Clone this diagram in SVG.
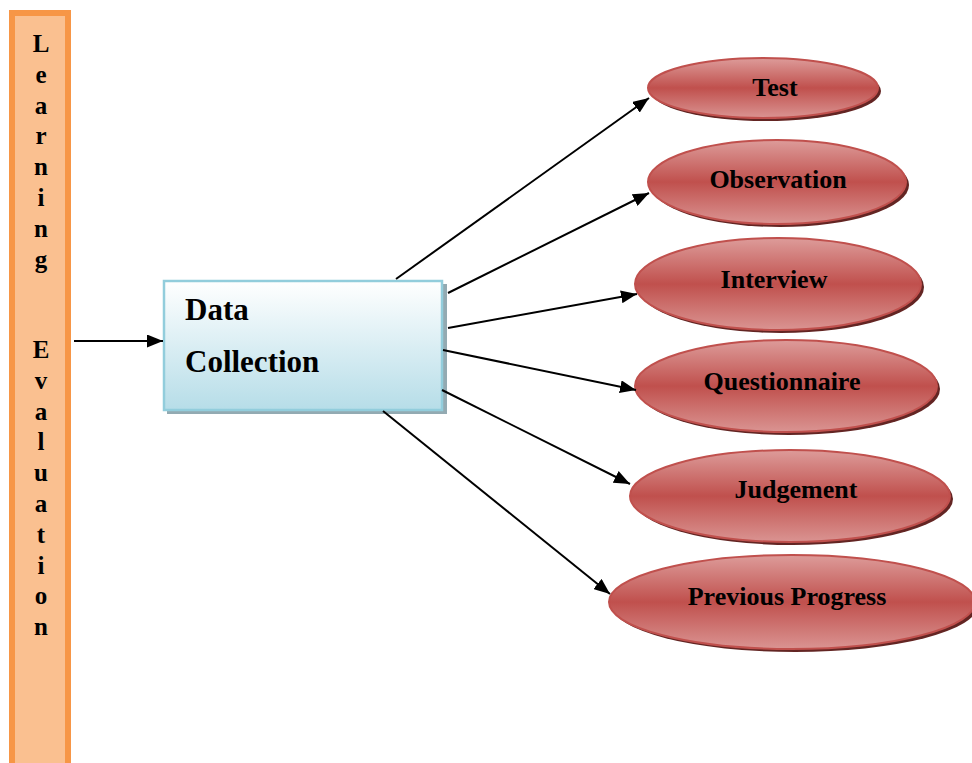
<svg xmlns="http://www.w3.org/2000/svg" width="972" height="763" viewBox="0 0 972 763">
<defs>
<style>
.side{font-family:"Liberation Serif","Times New Roman",serif;font-weight:bold;font-size:25px;fill:#000;text-anchor:middle}
.lbl{font-family:"Liberation Serif","Times New Roman",serif;font-weight:bold;font-size:26px;fill:#000;text-anchor:middle}
.box{font-family:"Liberation Serif","Times New Roman",serif;font-weight:bold;font-size:31px;fill:#000}
.ell{fill:url(#redg);stroke:#C0504D;stroke-width:2}
.shd{fill:#632523}
.conn line{stroke:#000;stroke-width:2;marker-end:url(#ah)}
</style>
<linearGradient id="redg" x1="0" y1="0" x2="0" y2="1">
<stop offset="0" stop-color="#DD9C9A"/>
<stop offset="0.5" stop-color="#C0504D"/>
<stop offset="1" stop-color="#DA9492"/>
</linearGradient>
<linearGradient id="blueg" x1="0" y1="0" x2="0" y2="1">
<stop offset="0" stop-color="#FFFFFF"/>
<stop offset="1" stop-color="#B6DDE8"/>
</linearGradient>
<marker id="ah" markerUnits="userSpaceOnUse" markerWidth="16" markerHeight="13" refX="16" refY="6.5" orient="auto">
<path d="M0,0 L16,6.5 L0,13 z" fill="#000"/>
</marker>
</defs>
<rect width="972" height="763" fill="#fff"/>

<g id="learning-evaluation">
<rect x="12" y="13" width="56" height="760" fill="#FAC090" stroke="#F79646" stroke-width="6"/>
<text class="side" x="41" y="52">L</text>
<text class="side" x="41" y="82.8">e</text>
<text class="side" x="41" y="113.6">a</text>
<text class="side" x="41" y="144.4">r</text>
<text class="side" x="41" y="175.2">n</text>
<text class="side" x="41" y="206">i</text>
<text class="side" x="41" y="236.8">n</text>
<text class="side" x="41" y="267.6">g</text>
<text class="side" x="41" y="358">E</text>
<text class="side" x="41" y="388.8">v</text>
<text class="side" x="41" y="419.6">a</text>
<text class="side" x="41" y="450.4">l</text>
<text class="side" x="41" y="481.2">u</text>
<text class="side" x="41" y="512">a</text>
<text class="side" x="41" y="542.8">t</text>
<text class="side" x="41" y="573.6">i</text>
<text class="side" x="41" y="604.4">o</text>
<text class="side" x="41" y="635.2">n</text>
</g>

<g id="data-collection">
<rect x="167" y="284" width="280" height="130" fill="#93AAB2"/>
<rect x="164" y="281" width="278" height="129" fill="url(#blueg)" stroke="#92CDDC" stroke-width="2.5"/>
<text class="box" x="185" y="320">Data</text>
<text class="box" x="185" y="372">Collection</text>
</g>

<g id="test">
<ellipse class="shd" cx="766" cy="91" rx="115" ry="30"/>
<ellipse class="ell" cx="763" cy="88" rx="115" ry="30"/>
<text class="lbl" x="775" y="96">Test</text>
</g>
<g id="observation">
<ellipse class="shd" cx="780" cy="185" rx="129" ry="42"/>
<ellipse class="ell" cx="777" cy="182" rx="129" ry="42"/>
<text class="lbl" x="778" y="188">Observation</text>
</g>
<g id="interview">
<ellipse class="shd" cx="781" cy="287" rx="143" ry="46"/>
<ellipse class="ell" cx="778" cy="284" rx="143" ry="46"/>
<text class="lbl" x="774" y="288">Interview</text>
</g>
<g id="questionnaire">
<ellipse class="shd" cx="789" cy="389" rx="151" ry="46"/>
<ellipse class="ell" cx="786" cy="386" rx="151" ry="46"/>
<text class="lbl" x="782" y="390">Questionnaire</text>
</g>
<g id="judgement">
<ellipse class="shd" cx="793" cy="499" rx="160" ry="46"/>
<ellipse class="ell" cx="790" cy="496" rx="160" ry="46"/>
<text class="lbl" x="796" y="498">Judgement</text>
</g>
<g id="previous-progress">
<ellipse class="shd" cx="795" cy="605" rx="183" ry="47"/>
<ellipse class="ell" cx="792" cy="602" rx="183" ry="47"/>
<text class="lbl" x="787" y="605">Previous Progress</text>
</g>

<g id="connectors" class="conn">
<line x1="74" y1="341" x2="163" y2="341"/>
<line x1="396" y1="279" x2="649" y2="98"/>
<line x1="448" y1="293" x2="649" y2="193"/>
<line x1="448" y1="328" x2="637" y2="294"/>
<line x1="443" y1="350" x2="636" y2="390"/>
<line x1="442" y1="390" x2="630" y2="484"/>
<line x1="383" y1="411" x2="610" y2="594"/>
</g>
</svg>
